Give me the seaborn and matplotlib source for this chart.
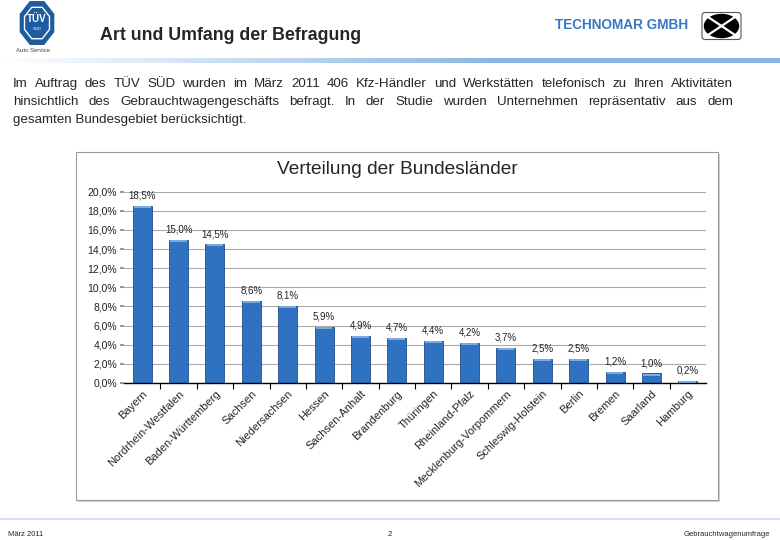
import numpy as np
import matplotlib
matplotlib.use("Agg")
import matplotlib.pyplot as plt
import seaborn as sns
from matplotlib.patches import Rectangle, Polygon, Ellipse, FancyBboxPatch

laender = ["Bayern", "Nordrhein-Westfalen", "Baden-Württemberg", "Sachsen",
           "Niedersachsen", "Hessen", "Sachsen-Anhalt", "Brandenburg",
           "Thüringen", "Rheinland-Pfalz", "Mecklenburg-Vorpommern",
           "Schleswig-Holstein", "Berlin", "Bremen", "Saarland", "Hamburg"]
anteile = [18.5, 15.0, 14.5, 8.6, 8.1, 5.9, 4.9, 4.7, 4.4, 4.2, 3.7,
           2.5, 2.5, 1.2, 1.0, 0.2]
y_ticks = [0, 2, 4, 6, 8, 10, 12, 14, 16, 18, 20]

intro_lines = [
    "Im Auftrag des TÜV SÜD wurden im März 2011 406 Kfz-Händler und Werkstätten telefonisch zu Ihren Aktivitäten",
    "hinsichtlich des Gebrauchtwagengeschäfts befragt. In der Studie wurden Unternehmen repräsentativ aus dem",
    "gesamten Bundesgebiet berücksichtigt.",
]


def de_pct(v):
    return f"{v:.1f}".replace(".", ",") + "%"


sns.set_theme(style="white")
plt.rcParams['font.family'] = ['Liberation Sans', 'DejaVu Sans']

W, H = 780, 540
fig = plt.figure(figsize=(7.8, 5.4), dpi=100)
fig.patch.set_facecolor("white")

# background layer in pixel coordinates
bg = fig.add_axes([0, 0, 1, 1])
bg.set_xlim(0, W)
bg.set_ylim(H, 0)
bg.axis("off")

# --- header ---
def octagon(cx, cy, rx, ry):
    ang = np.deg2rad(22.5 + 45 * np.arange(8))
    return np.column_stack([cx + rx * np.cos(ang), cy + ry * np.sin(ang)])

bg.add_patch(Polygon(octagon(37, 23, 18, 23), closed=True, color="#1D5C9E"))
bg.add_patch(Polygon(octagon(37, 23, 13.5, 17), closed=True, color="white"))
bg.add_patch(Polygon(octagon(37, 23, 12, 15.5), closed=True, color="#1D5C9E"))
bg.text(37, 19, "TÜV", color="white", fontsize=7, fontweight="bold",
        ha="center", va="center")
bg.text(37, 29, "SÜD", color="white", fontsize=3, ha="center", va="center")
bg.text(33, 51, "Auto Service", color="#444444", fontsize=4.3,
        ha="center", va="center")

bg.text(100, 36, "Art und Umfang der Befragung", fontsize=12.8,
        fontweight="bold", ha="left", va="center")
bg.text(688, 25, "TECHNOMAR GMBH", fontsize=9.8, fontweight="bold",
        color="#3678C4", ha="right", va="center")

bg.add_patch(FancyBboxPatch((702, 12.5), 39, 27, boxstyle="round,pad=0,rounding_size=3",
                            facecolor="white", edgecolor="#555555", lw=0.8))
bg.add_patch(Ellipse((721.5, 26), 34, 23, color="black"))
bg.plot([708, 735], [17, 35], color="white", lw=1.6, solid_capstyle="butt")
bg.plot([708, 735], [35, 17], color="white", lw=1.6, solid_capstyle="butt")

# gradient rule under the header
ramp = np.clip(np.linspace(0, 1.6, 400), 0, 1)
grad = np.zeros((1, 400, 4))
grad[..., 0], grad[..., 1], grad[..., 2] = 0.55, 0.72, 0.90
grad[..., 3] = ramp
bg.imshow(grad, extent=[0, W, 63, 58], aspect="auto", zorder=1)

# --- justified paragraph ---
renderer = fig.canvas.get_renderer()
x0, x1 = 13, 733
line_y = [84, 102, 120]
for k, line in enumerate(intro_lines):
    words = line.split(" ")
    if k == len(intro_lines) - 1:
        bg.text(x0, line_y[k], line, fontsize=9.6, ha="left", va="center")
        continue
    texts = [bg.text(0, line_y[k], w, fontsize=9.6, ha="left", va="center") for w in words]
    widths = [t.get_window_extent(renderer).width for t in texts]
    gap = (x1 - x0 - sum(widths)) / (len(words) - 1)
    x = x0
    for t, w in zip(texts, widths):
        t.set_x(x)
        x += w + gap

# --- chart frame ---
bg.add_patch(Rectangle((78, 154), 642, 348, facecolor="#D0D0D0", edgecolor="none"))
bg.add_patch(Rectangle((76, 152), 642, 348, facecolor="white",
                       edgecolor="#9A9A9A", lw=0.8))
bg.text(397, 170, "Verteilung der Bundesländer", fontsize=13.8,
        ha="center", va="center")

# --- footer ---
bg.plot([0, W], [519, 519], color="#C9DDF2", lw=1.2)
bg.text(8, 534, "März 2011", fontsize=5.5, ha="left", va="center")
bg.text(390, 534, "2", fontsize=5.5, ha="center", va="center")
bg.text(770, 534, "Gebrauchtwagenumfrage", fontsize=5.5, ha="right", va="center")

# --- bar chart ---
ax = fig.add_axes([124 / W, 1 - 383 / H, (706 - 124) / W, (383 - 191.7) / H])
ax.set_facecolor("white")
sns.barplot(x=laender, y=anteile, color="#3072C2", width=0.52, saturation=1,
            edgecolor="#1E4F8C", linewidth=0.6, ax=ax)
# light highlight on bar tops
for i, v in enumerate(anteile):
    ax.plot([i - 0.23, i + 0.23], [v - 0.12, v - 0.12], color="#8DB7EA",
            lw=1.2, solid_capstyle="butt", zorder=3)
    ax.text(i, v + 0.55, de_pct(v), ha="center", va="bottom", fontsize=7,
            color="#222222")

ax.set_xlim(-0.5, len(laender) - 0.5)
ax.set_ylim(0, 20)
ax.set_yticks(y_ticks)
ax.set_yticklabels([de_pct(v) for v in y_ticks], fontsize=7.5, color="#222222")
ax.yaxis.grid(True, color="#ABABAB", lw=0.8)
ax.set_axisbelow(True)
for s in ["top", "right", "left"]:
    ax.spines[s].set_visible(False)
ax.spines["bottom"].set_color("black")
ax.spines["bottom"].set_linewidth(1)
ax.tick_params(axis="y", left=True, length=3, color="#888888", pad=2)
ax.set_xticks(range(len(laender)))
ax.set_xticklabels(laender, rotation=45, ha="right", rotation_mode="anchor",
                   fontsize=8)
ax.tick_params(axis="x", which="major", length=0, pad=4)
ax.set_xticks(np.arange(0.5, len(laender) - 0.5, 1), minor=True)
ax.tick_params(axis="x", which="minor", bottom=True, length=4,
               color="black", width=0.8, direction="out")
ax.set_xlabel("")
ax.set_ylabel("")

fig.savefig("out.png", dpi=100)
